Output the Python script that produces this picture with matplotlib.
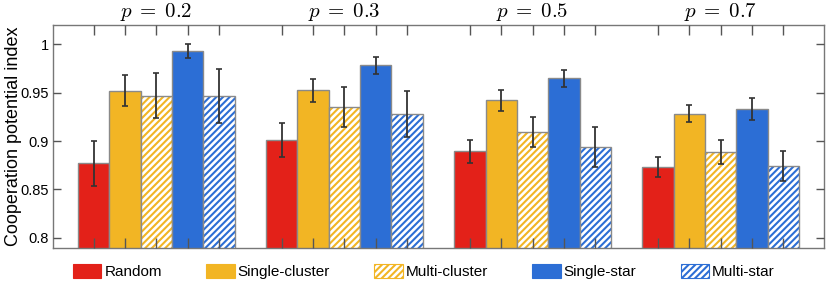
import numpy as np
import matplotlib
matplotlib.use('Agg')
import matplotlib.pyplot as plt
from matplotlib.patches import Patch
from matplotlib import transforms

plt.rcParams['font.family'] = ['Liberation Sans', 'DejaVu Sans']
plt.rcParams['mathtext.fontset'] = 'cm'
plt.rcParams['hatch.linewidth'] = 1.5

# data
groups = ['$p\\;=\\;0.2$', '$p\\;=\\;0.3$', '$p\\;=\\;0.5$', '$p\\;=\\;0.7$']
labels = ['Random', 'Single-cluster', 'Multi-cluster', 'Single-star', 'Multi-star']
values = {
    'Random':         [0.877, 0.901, 0.8895, 0.8735],
    'Single-cluster': [0.952, 0.9523, 0.942, 0.9283],
    'Multi-cluster':  [0.947, 0.9352, 0.9094, 0.8889],
    'Single-star':    [0.9934, 0.9784, 0.965, 0.9331],
    'Multi-star':     [0.9465, 0.928, 0.894, 0.874],
}
errors = {
    'Random':         [0.023, 0.0173, 0.012, 0.0103],
    'Single-cluster': [0.016, 0.0117, 0.011, 0.009],
    'Multi-cluster':  [0.0235, 0.0205, 0.0155, 0.0125],
    'Single-star':    [0.007, 0.009, 0.0086, 0.011],
    'Multi-star':     [0.028, 0.0233, 0.0204, 0.0157],
}

red = '#E32119'
yellow = '#F2B524'
blue = '#2C6ED5'
styles = {
    'Random':         (red, None),
    'Single-cluster': (yellow, None),
    'Multi-cluster':  (yellow, '/////'),
    'Single-star':    (blue, None),
    'Multi-star':     (blue, '/////'),
}
edge = '#8a8a8a'

fig = plt.figure(figsize=(8.31, 2.84), dpi=100)
ax = fig.add_axes([53/831, 1-247.5/284, (824-53)/831, (247.5-25)/284])

centers = np.arange(len(groups)) * 6
xt = []
for i, lab in enumerate(labels):
    x = centers + (i - 2)
    xt += list(x)
    col, hatch = styles[lab]
    if hatch is None:
        ax.bar(x, values[lab], width=1.0, color=col, edgecolor=edge, linewidth=1.0, zorder=2)
    else:
        ax.bar(x, values[lab], width=1.0, color='white', edgecolor=col, hatch=hatch, linewidth=0, zorder=2)
        ax.bar(x, values[lab], width=1.0, color='none', edgecolor=edge, linewidth=1.0, zorder=2)
    ax.errorbar(x, values[lab], yerr=errors[lab], fmt='none', ecolor='#333333',
                elinewidth=1.3, capsize=2.2, capthick=1.2, zorder=3)

ax.set_ylim(0.79, 1.02)
ax.set_xlim(-3.3, 21.3)
ax.set_yticks([0.8, 0.85, 0.9, 0.95, 1.0])
ax.set_yticklabels(['0.8', '0.85', '0.9', '0.95', '1'], fontsize=10.5)
ax.set_xticks(xt)
ax.set_xticklabels([])
ax.tick_params(axis='both', direction='in', top=True, right=True, length=6,
               width=1.0, color='#555555', pad=3)
ax.tick_params(axis='x', length=7)
for s in ax.spines.values():
    s.set_color('#777777')
    s.set_linewidth(1.0)
ax.set_axisbelow(False)
ax.set_ylabel('Cooperation potential index', fontsize=13)
ax.yaxis.set_label_coords(-0.04, 0.5)

trans = transforms.blended_transform_factory(ax.transData, ax.transAxes)
for c, g in zip(centers, groups):
    ax.text(c, 1.058, g, transform=trans, ha='center', va='center', fontsize=15)

handles = []
for lab in labels:
    col, hatch = styles[lab]
    if hatch is None:
        handles.append(Patch(facecolor=col, edgecolor=col, linewidth=0.8))
    else:
        handles.append(Patch(facecolor='white', edgecolor=col, hatch=hatch, linewidth=0.8))
leg = fig.legend(handles, labels, loc='center', bbox_to_anchor=(424/831, 1-271.5/284),
                 ncol=5, frameon=False, fontsize=11, handlelength=1.85, handleheight=1.0,
                 handletextpad=0.2, columnspacing=2.9, borderpad=0)

fig.savefig('out.png', dpi=100)
